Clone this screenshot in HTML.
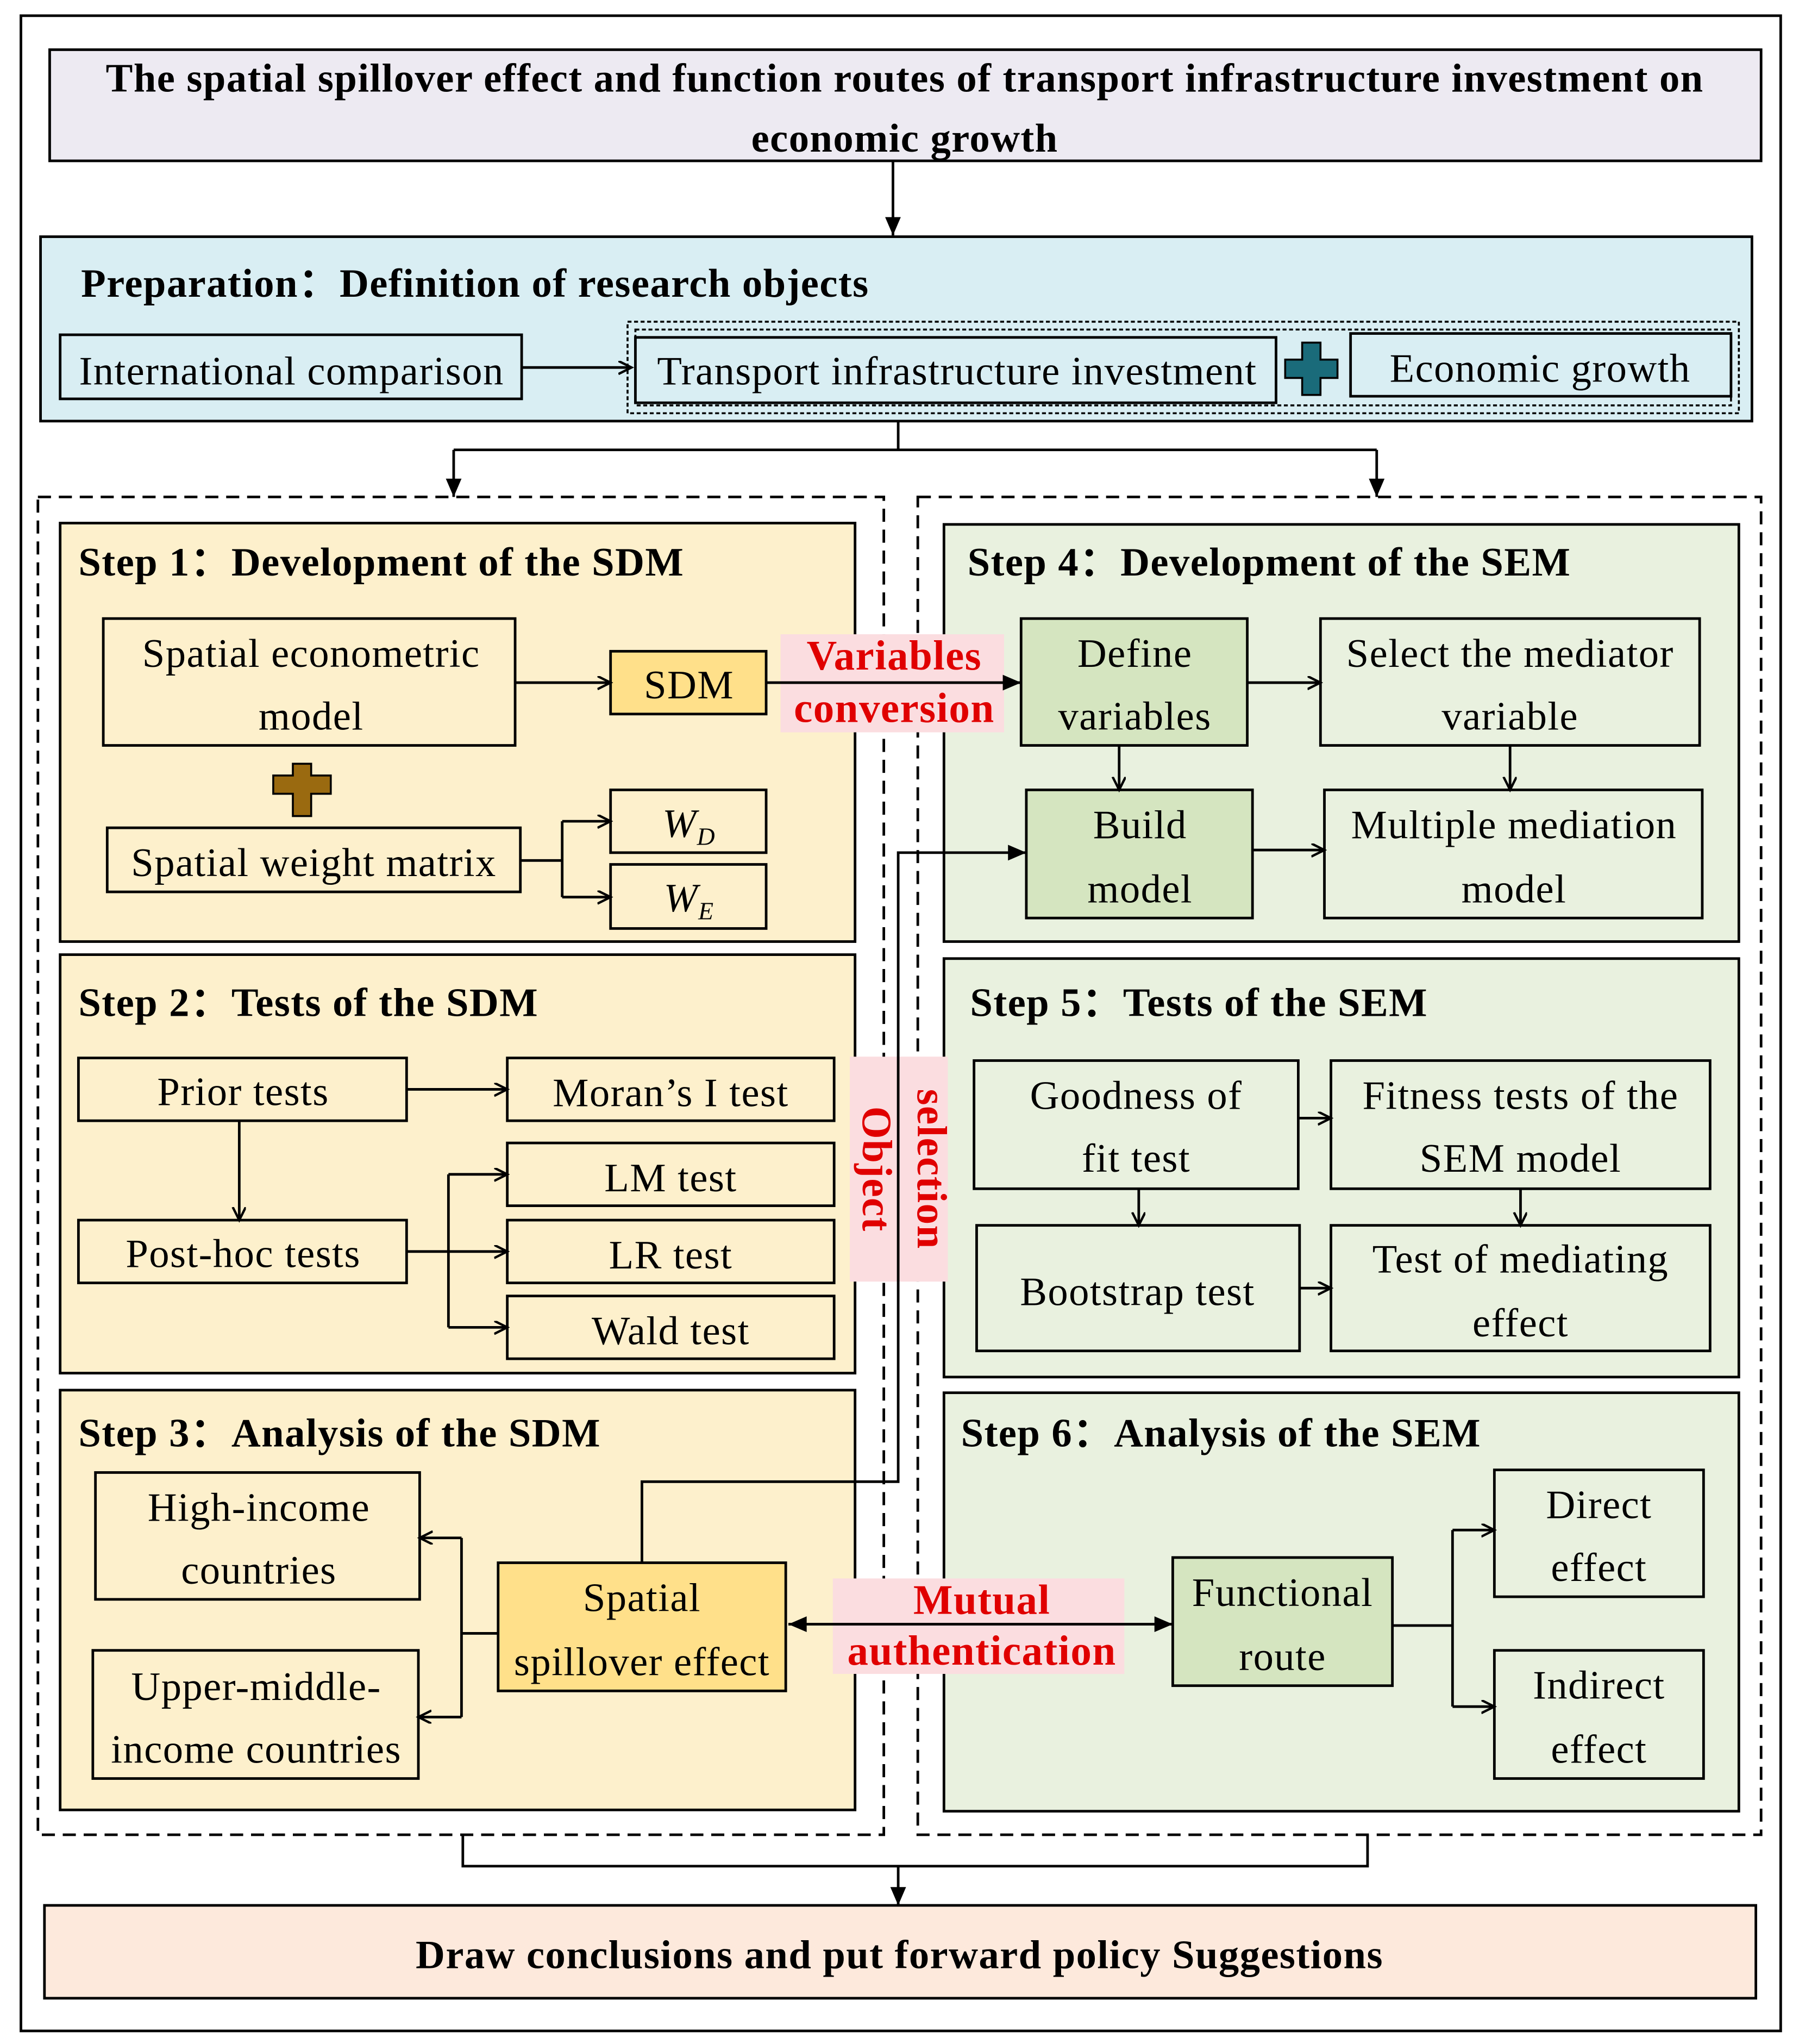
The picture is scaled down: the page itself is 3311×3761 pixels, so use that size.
<!DOCTYPE html>
<html><head><meta charset="utf-8"><style>
html,body{margin:0;padding:0;background:#fff}
svg{display:block}
text{font-family:"Liberation Serif",serif;font-size:31px;fill:#000;letter-spacing:0.6px}
.b{font-weight:bold}
.r{fill:#e00000;font-weight:bold;font-size:32px}
</style></head><body>
<svg width="3311" height="3761" viewBox="0 0 1376 1563" preserveAspectRatio="none" xmlns="http://www.w3.org/2000/svg">
<defs>
<marker id="a" markerWidth="12" markerHeight="12" refX="10" refY="5" orient="auto" markerUnits="userSpaceOnUse"><path d="M0,0 L10,5 L0,10" fill="none" stroke="#000" stroke-width="1.8"/></marker>
<marker id="f" markerWidth="16" markerHeight="14" refX="14" refY="6" orient="auto" markerUnits="userSpaceOnUse"><path d="M0,0 L14,6 L0,12 Z" fill="#000"/></marker>
<marker id="fs" markerWidth="16" markerHeight="14" refX="0" refY="6" orient="auto" markerUnits="userSpaceOnUse"><path d="M14,0 L0,6 L14,12 Z" fill="#000"/></marker>
</defs>
<g fill="none" stroke="#000" stroke-width="2">
<rect x="16" y="12" width="1346" height="1541"/>
<rect x="38" y="38" width="1309" height="85" fill="#edeaf2"/>
<rect x="31" y="181" width="1309" height="141" fill="#d9eef3"/>
<rect x="29" y="380" width="647" height="1023" stroke-dasharray="10,6"/>
<rect x="702" y="380" width="645" height="1023" stroke-dasharray="10,6"/>
<rect x="46" y="400" width="608" height="320" fill="#fdf0cc"/>
<rect x="46" y="730" width="608" height="320" fill="#fdf0cc"/>
<rect x="46" y="1063" width="608" height="321" fill="#fdf0cc"/>
<rect x="722" y="401" width="608" height="319" fill="#e9f1df"/>
<rect x="722" y="733" width="608" height="320" fill="#e9f1df"/>
<rect x="722" y="1065" width="608" height="320" fill="#e9f1df"/>
<rect x="34" y="1457" width="1309" height="71" fill="#fde9dc"/>
<rect x="46" y="256" width="353" height="49"/>
<rect x="480" y="246" width="850" height="70" stroke-dasharray="3,2" stroke-width="1.5"/>
<rect x="486" y="252" width="838" height="58" stroke-dasharray="3,2" stroke-width="1.5"/>
<rect x="486" y="258" width="490" height="50"/>
<rect x="1033" y="255" width="291" height="48"/>
<rect x="79" y="473" width="315" height="97"/>
<rect x="467" y="498" width="119" height="48" fill="#ffe08a"/>
<rect x="82" y="633" width="316" height="49"/>
<rect x="467" y="604" width="119" height="48"/>
<rect x="467" y="661" width="119" height="49"/>
<rect x="781" y="473" width="173" height="97" fill="#d5e5c0"/>
<rect x="1010" y="473" width="290" height="97"/>
<rect x="785" y="604" width="173" height="98" fill="#d5e5c0"/>
<rect x="1013" y="604" width="289" height="98"/>
<rect x="60" y="809" width="251" height="48"/>
<rect x="388" y="809" width="250" height="48"/>
<rect x="60" y="933" width="251" height="48"/>
<rect x="388" y="874" width="250" height="48"/>
<rect x="388" y="933" width="250" height="48"/>
<rect x="388" y="991" width="250" height="48"/>
<rect x="745" y="811" width="248" height="98"/>
<rect x="1018" y="811" width="290" height="98"/>
<rect x="747" y="937" width="247" height="96"/>
<rect x="1018" y="937" width="290" height="96"/>
<rect x="73" y="1126" width="248" height="97"/>
<rect x="71" y="1262" width="249" height="98"/>
<rect x="381" y="1195" width="220" height="98" fill="#ffe08a"/>
<rect x="897" y="1191" width="168" height="98" fill="#d5e5c0"/>
<rect x="1143" y="1124" width="160" height="97"/>
<rect x="1143" y="1262" width="160" height="98"/>
</g>
<g stroke="none">
<rect x="597" y="485" width="171" height="75" fill="#fbdde0"/>
<rect x="650" y="808" width="75" height="172" fill="#fbdde0"/>
<rect x="637" y="1207" width="223" height="73" fill="#fbdde0"/>
</g>
<g fill="none" stroke="#000" stroke-width="2">
<path d="M683,123 V180" marker-end="url(#f)"/>
<path d="M399,281 H483" marker-end="url(#a)"/>
<path d="M687,322 V344 M347,344 H1053"/>
<path d="M347,344 V380" marker-end="url(#f)"/>
<path d="M1053,344 V380" marker-end="url(#f)"/>
<path d="M394,522 H467" marker-end="url(#a)"/>
<path d="M586,522 H781" marker-end="url(#f)"/>
<path d="M398,658 H430 M430,628 V686"/>
<path d="M430,628 H467" marker-end="url(#a)"/>
<path d="M430,686 H467" marker-end="url(#a)"/>
<path d="M954,522 H1010" marker-end="url(#a)"/>
<path d="M856,570 V604" marker-end="url(#a)"/>
<path d="M1155,570 V604" marker-end="url(#a)"/>
<path d="M958,650 H1013" marker-end="url(#a)"/>
<path d="M491,1195 V1133 H687 V652 H785" marker-end="url(#f)"/>
<path d="M311,833 H388" marker-end="url(#a)"/>
<path d="M183,857 V933" marker-end="url(#a)"/>
<path d="M311,957 H343 M343,898 V1015"/>
<path d="M343,898 H388" marker-end="url(#a)"/>
<path d="M343,957 H388" marker-end="url(#a)"/>
<path d="M343,1015 H388" marker-end="url(#a)"/>
<path d="M993,855 H1018" marker-end="url(#a)"/>
<path d="M994,985 H1018" marker-end="url(#a)"/>
<path d="M871,909 V937" marker-end="url(#a)"/>
<path d="M1163,909 V937" marker-end="url(#a)"/>
<path d="M381,1249 H353 M353,1176 V1313"/>
<path d="M353,1176 H321" marker-end="url(#a)"/>
<path d="M353,1313 H320" marker-end="url(#a)"/>
<path d="M603,1242 H897" marker-start="url(#fs)" marker-end="url(#f)"/>
<path d="M1065,1243 H1111 M1111,1170 V1305"/>
<path d="M1111,1170 H1143" marker-end="url(#a)"/>
<path d="M1111,1305 H1143" marker-end="url(#a)"/>
<path d="M354,1403 V1427 H1046 V1403"/>
<path d="M687,1427 V1457" marker-end="url(#f)"/>
</g>
<path d="M996,262 h14 v13 h13 v14 h-13 v13 h-14 v-13 h-13 v-14 h13 z" fill="#1a6b7a" stroke="#000" stroke-width="1.5"/>
<path d="M224,584 h14 v9 h15 v14 h-15 v17 h-14 v-17 h-15 v-14 h15 z" fill="#9a6a10" stroke="#000" stroke-width="1.5"/>
<g text-anchor="middle">
<text x="692" y="70" class="b">The spatial spillover effect and function routes of transport infrastructure investment on</text>
<text x="692" y="116" class="b">economic growth</text>
<text x="223" y="294">International comparison</text>
<text x="732" y="294">Transport infrastructure investment</text>
<text x="1178" y="292">Economic growth</text>
<text x="238" y="510">Spatial econometric</text>
<text x="238" y="558">model</text>
<text x="527" y="534">SDM</text>
<text x="240" y="670">Spatial weight matrix</text>
<text x="527" y="640" font-style="italic">W<tspan font-size="19" dy="6">D</tspan></text>
<text x="527" y="697" font-style="italic">W<tspan font-size="19" dy="6">E</tspan></text>
<text x="684" y="512" class="r">Variables</text>
<text x="684" y="552" class="r">conversion</text>
<text x="868" y="510">Define</text>
<text x="868" y="558">variables</text>
<text x="1155" y="510">Select the mediator</text>
<text x="1155" y="558">variable</text>
<text x="872" y="641">Build</text>
<text x="872" y="690">model</text>
<text x="1158" y="641">Multiple mediation</text>
<text x="1158" y="690">model</text>
<text x="186" y="845">Prior tests</text>
<text x="513" y="846">Moran’s I  test</text>
<text x="186" y="969">Post-hoc tests</text>
<text x="513" y="911">LM  test</text>
<text x="513" y="970">LR  test</text>
<text x="513" y="1028">Wald  test</text>
<text x="869" y="848">Goodness of</text>
<text x="869" y="896">fit test</text>
<text x="1163" y="848">Fitness tests of the</text>
<text x="1163" y="896">SEM model</text>
<text x="870" y="998">Bootstrap test</text>
<text x="1163" y="973">Test of mediating</text>
<text x="1163" y="1022">effect</text>
<text x="198" y="1163">High-income</text>
<text x="198" y="1211">countries</text>
<text x="196" y="1300">Upper-middle-</text>
<text x="196" y="1348">income countries</text>
<text x="491" y="1232">Spatial</text>
<text x="491" y="1281">spillover effect</text>
<text x="751" y="1234" class="r">Mutual</text>
<text x="751" y="1273" class="r">authentication</text>
<text x="981" y="1228">Functional</text>
<text x="981" y="1277">route</text>
<text x="1223" y="1161">Direct</text>
<text x="1223" y="1209">effect</text>
<text x="1223" y="1299">Indirect</text>
<text x="1223" y="1348">effect</text>
<text x="688" y="1505" class="b">Draw conclusions and put forward policy Suggestions</text>
<text transform="translate(660,894) rotate(90)" class="r">Object</text>
<text transform="translate(702,894) rotate(90)" class="r">selection</text>
</g>
<text x="62" y="227" class="b">Preparation：Definition of research objects</text>
<text x="60" y="440" class="b">Step 1：Development of the SDM</text>
<text x="60" y="777" class="b">Step 2：Tests of the SDM</text>
<text x="60" y="1106" class="b">Step 3：Analysis of the SDM</text>
<text x="740" y="440" class="b">Step 4：Development of the SEM</text>
<text x="742" y="777" class="b">Step 5：Tests of the SEM</text>
<text x="735" y="1106" class="b">Step 6：Analysis of the SEM</text>
</svg>
</body></html>
